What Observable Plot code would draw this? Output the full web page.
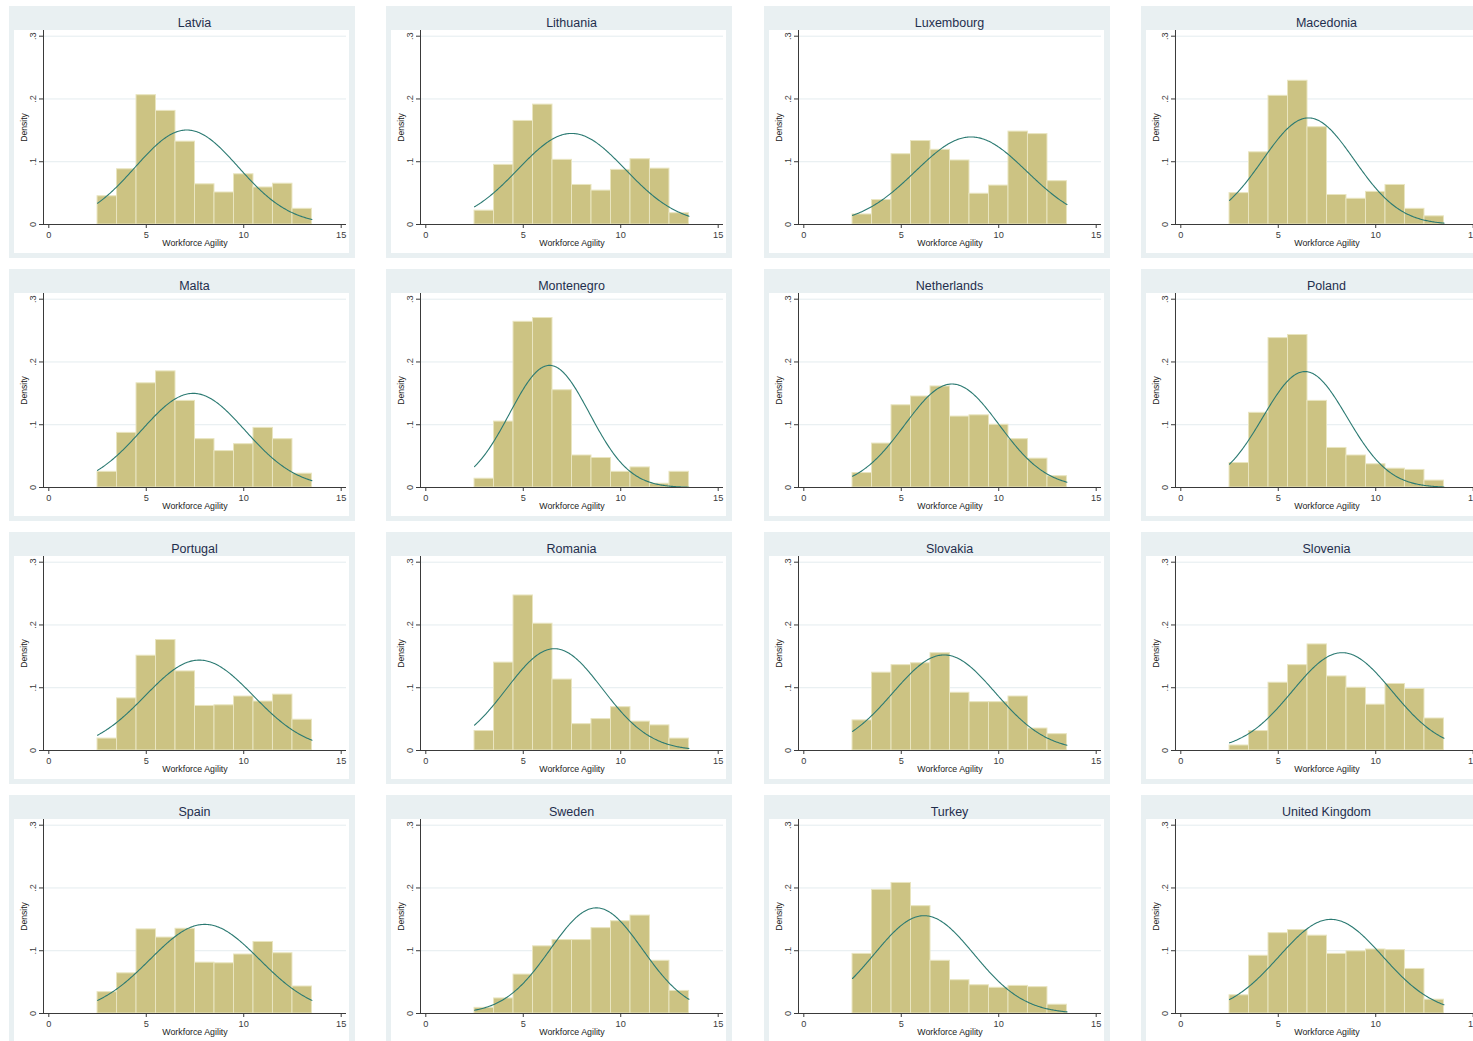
<!DOCTYPE html>
<html>
<head>
<meta charset="utf-8">
<script src="https://cdn.jsdelivr.net/npm/d3@7"></script>
<script src="https://cdn.jsdelivr.net/npm/@observablehq/plot@0.6"></script>
<style>
  html, body { margin: 0; padding: 0; background: #ffffff; overflow: hidden; }
  #grid { position: relative; width: 1473px; height: 1041px; overflow: hidden;
          font-family: "Liberation Sans", Arial, sans-serif; }
  .panel { position: absolute; width: 346px; height: 252px; background: #E9F0F2; }
  .panel .title { position: absolute; left: 34px; width: 303px; top: 10px; height: 14px;
                  line-height: 14px; font-size: 12.5px; color: #1f2e4d; text-align: center;
                  white-space: nowrap; }
  .panel > svg { position: absolute; left: 5px; top: 24px; }
</style>
</head>
<body>
<div id="grid"></div>
<script>
// Panels, in reading order
const countries = ["Latvia", "Lithuania", "Luxembourg", "Macedonia",
                   "Malta", "Montenegro", "Netherlands", "Poland",
                   "Portugal", "Romania", "Slovakia", "Slovenia",
                   "Spain", "Sweden", "Turkey", "United Kingdom"];

// Histogram bins of width 1, starting at 2.5
const binStarts = [2.5, 3.5, 4.5, 5.5, 6.5, 7.5, 8.5, 9.5, 10.5, 11.5, 12.5];
const binWidth = 1;

// Density of each bin, per country
const latvia        = [0.045, 0.088, 0.206, 0.181, 0.132, 0.064, 0.051, 0.080, 0.059, 0.065, 0.025];
const lithuania     = [0.022, 0.095, 0.165, 0.191, 0.103, 0.063, 0.054, 0.087, 0.104, 0.089, 0.018];
const luxembourg    = [0.016, 0.039, 0.112, 0.133, 0.119, 0.102, 0.049, 0.062, 0.148, 0.144, 0.069];
const macedonia     = [0.050, 0.115, 0.205, 0.229, 0.155, 0.047, 0.041, 0.052, 0.063, 0.025, 0.013];
const malta         = [0.025, 0.087, 0.166, 0.185, 0.138, 0.077, 0.058, 0.069, 0.095, 0.077, 0.022];
const montenegro    = [0.014, 0.105, 0.264, 0.270, 0.155, 0.051, 0.047, 0.025, 0.032, 0.006, 0.025];
const netherlands   = [0.023, 0.070, 0.131, 0.145, 0.161, 0.113, 0.115, 0.100, 0.077, 0.046, 0.018];
const poland        = [0.039, 0.119, 0.238, 0.243, 0.138, 0.063, 0.051, 0.037, 0.030, 0.028, 0.011];
const portugal      = [0.019, 0.083, 0.151, 0.176, 0.126, 0.071, 0.072, 0.086, 0.078, 0.089, 0.049];
const romania       = [0.031, 0.140, 0.247, 0.202, 0.113, 0.042, 0.050, 0.069, 0.046, 0.040, 0.019];
const slovakia      = [0.048, 0.124, 0.136, 0.139, 0.155, 0.092, 0.077, 0.077, 0.086, 0.035, 0.026];
const slovenia      = [0.008, 0.031, 0.108, 0.136, 0.169, 0.118, 0.100, 0.073, 0.106, 0.098, 0.051];
const spain         = [0.034, 0.064, 0.134, 0.121, 0.135, 0.081, 0.080, 0.094, 0.114, 0.096, 0.043];
const sweden        = [0.009, 0.024, 0.062, 0.107, 0.117, 0.117, 0.136, 0.147, 0.156, 0.084, 0.036];
const turkey        = [0.095, 0.197, 0.208, 0.171, 0.084, 0.053, 0.045, 0.041, 0.044, 0.042, 0.014];
const unitedKingdom = [0.029, 0.092, 0.128, 0.133, 0.124, 0.095, 0.099, 0.102, 0.101, 0.071, 0.022];

// Normal density overlay: mean and standard deviation per country
const curveMean = [7.08, 7.48, 8.58, 6.55, 7.41, 6.35, 7.60, 6.37, 7.72, 6.60, 7.20, 8.28, 8.00, 8.75, 6.17, 7.70];
const curveSD   = [2.65, 2.75, 2.86, 2.35, 2.66, 2.05, 2.42, 2.16, 2.77, 2.46, 2.62, 2.56, 2.81, 2.37, 2.56, 2.66];
const curveRange = [2.5, 13.5];

// Axes
const xTicks = [0, 5, 10, 15];
const yTicks = [0, 0.1, 0.2, 0.3];
const yTickLabels = ["0", ".1", ".2", ".3"];
const xLabel = "Workforce Agility";
const yLabel = "Density";

const series = [latvia, lithuania, luxembourg, macedonia, malta, montenegro, netherlands, poland,
                portugal, romania, slovakia, slovenia, spain, sweden, turkey, unitedKingdom];

const barFill = "#CCC383";
const barEdge = "#E9E5C0";
const curveColor = "#2B7A72";
const gridColor = "#E4ECEF";
const axisColor = "#3a3a3a";
const fontFamily = '"Liberation Sans", Arial, sans-serif';

const W = 335, H = 223;
const frameLeft = 29, frameRight = 332, frameBottom = 194;
const xRange = [34.3, 326.7];

function panel(i) {
  const dens = series[i];
  const bars = binStarts.map((x0, j) => ({x1: x0, x2: x0 + binWidth, density: dens[j]}));
  const m = curveMean[i], s = curveSD[i];
  const normal = d3.range(curveRange[0], curveRange[1] + 1e-9, 0.05).map(x => ({
    x, y: Math.exp(-0.5 * ((x - m) / s) ** 2) / (s * Math.sqrt(2 * Math.PI))
  }));
  return Plot.plot({
    width: W, height: H,
    marginLeft: frameLeft, marginRight: W - frameRight, marginTop: 0, marginBottom: H - frameBottom,
    x: {domain: [0, 15], range: xRange},
    y: {domain: [0, 0.3], range: [frameBottom, 5.7]},
    style: {fontFamily, fontSize: "9.2px", background: "#ffffff", color: "#222", overflow: "visible"},
    marks: [
      Plot.ruleY(yTicks.slice(1), {stroke: gridColor, strokeWidth: 1}),
      Plot.rectY(bars, {x1: "x1", x2: "x2", y: "density", fill: barFill, stroke: barEdge, strokeWidth: 1}),
      Plot.line(normal, {x: "x", y: "y", stroke: curveColor, strokeWidth: 1.1}),
      Plot.ruleY([0], {stroke: axisColor, strokeWidth: 1}),
      Plot.ruleX([0], {dx: frameLeft - xRange[0], stroke: axisColor, strokeWidth: 1}),
      Plot.axisX({ticks: xTicks, tickSize: 4, tickPadding: 3, color: axisColor, label: null}),
      Plot.axisY({ticks: yTicks, tickFormat: d => yTickLabels[yTicks.indexOf(d)],
                  tickRotate: -90, tickSize: 4, tickPadding: 4, color: axisColor, label: null}),
      Plot.text([xLabel], {text: d => d, frameAnchor: "bottom", dy: 19, lineAnchor: "middle",
                           textAnchor: "middle", fontSize: 8.8, fill: "#222"}),
      Plot.text([yLabel], {text: d => d, frameAnchor: "left", dx: -19, rotate: -90, lineAnchor: "middle",
                           textAnchor: "middle", fontSize: 8.6, fill: "#222"})
    ]
  });
}

const root = document.getElementById("grid");
countries.forEach((name, i) => {
  const col = i % 4, row = Math.floor(i / 4);
  const div = document.createElement("div");
  div.className = "panel";
  div.style.left = Math.round(9 + col * 377.3) + "px";
  div.style.top = (6 + row * 263) + "px";
  const title = document.createElement("div");
  title.className = "title";
  title.textContent = name;
  div.append(title, panel(i));
  root.append(div);
});
</script>
</body>
</html>
